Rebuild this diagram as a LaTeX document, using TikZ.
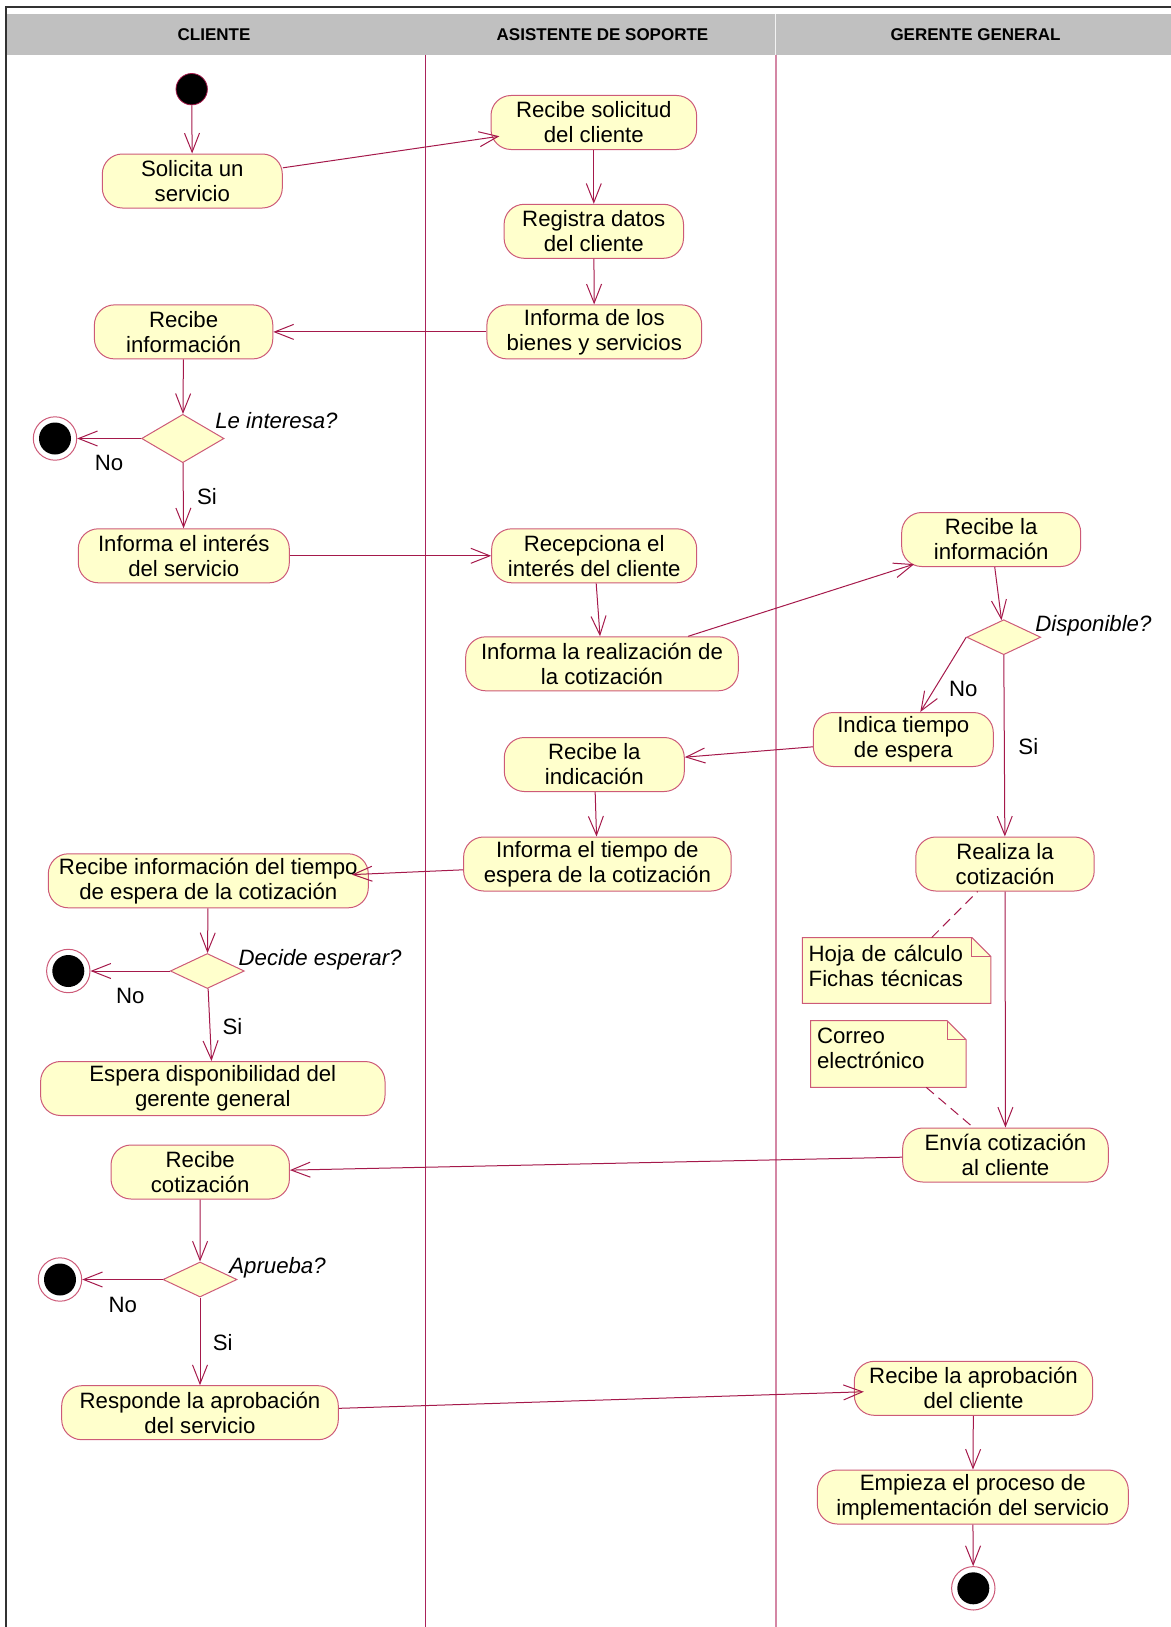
\documentclass[tikz,border=0pt]{standalone}
\usepackage{fontspec}
\setmainfont{Liberation Sans}
\usetikzlibrary{arrows.meta,shapes.geometric,calc,backgrounds}

\definecolor{linkred}{RGB}{165,25,75}
\definecolor{edgered}{RGB}{205,90,120}
\definecolor{actfill}{RGB}{255,255,204}
\definecolor{lanedark}{RGB}{170,35,90}
\definecolor{lanelight}{RGB}{212,135,165}
\definecolor{headgray}{RGB}{192,192,192}
\definecolor{framegray}{RGB}{50,50,50}

\begin{document}
\begin{tikzpicture}[x=0.5pt,y=-0.5pt,
  activity/.style={draw=edgered, fill=actfill, line width=0.5pt, rounded corners=10pt,
    minimum height=27pt, inner sep=0pt, align=center,
    font=\fontsize{11.1}{12.5}\selectfont},
  decision/.style={diamond, draw=edgered, fill=actfill, line width=0.5pt, inner sep=0pt,
    minimum width=37pt, minimum height=17.5pt},
  initial/.style={circle, fill=black, draw=linkred, line width=0.4pt, inner sep=0pt,
    minimum size=15.7pt},
  final/.style={circle, draw=edgered, fill=white, line width=0.5pt, inner sep=0pt,
    minimum size=21.7pt,
    path picture={\fill[black] (path picture bounding box.center) circle (8pt);}},
  note/.style={inner xsep=3pt, inner ysep=0pt, align=left,
    font=\fontsize{11.1}{12.5}\selectfont},
  arrowto/.style={draw=linkred, line width=0.5pt,
    -{Straight Barb[length=9.5pt,width=7.5pt]}},
  notelink/.style={draw=linkred, line width=0.5pt, dash pattern=on 5pt off 3pt},
  guard/.style={inner sep=0pt, font=\fontsize{11.1}{12.5}\selectfont},
  question/.style={inner sep=0pt, anchor=west, font=\fontsize{11.1}{12.5}\selectfont\itshape},
  lanehead/.style={inner sep=0pt, font=\fontsize{8.5}{10}\selectfont\bfseries}
]
\useasboundingbox (0,0) rectangle (1171,1627);

% swimlane frame and headers
\fill[headgray] (7,14.3) rectangle (1171,55);
\draw[white!80!headgray, line width=0.6pt] (775.7,14.3) -- (775.7,55);
\draw[framegray, line width=1pt] (5.7,1627) -- (5.7,7.3) -- (1171,7.3);
\draw[lanedark, line width=0.7pt] (425.5,55) -- (425.5,1627);
\draw[lanelight, line width=0.9pt] (775.7,55) -- (775.7,1627);
\node[lanehead] (h1) at (214,35) {CLIENTE};
\node[lanehead] (h2) at (602.5,35) {ASISTENTE DE SOPORTE};
\node[lanehead] (h3) at (975.5,35) {GERENTE GENERAL};

% CLIENTE lane
\node[initial] (start) at (191.7,89.2) {};
\node[activity, minimum width=90pt] (solicita) at (192.3,181) {Solicita un\\servicio};
\node[activity, minimum width=89.2pt] (recInfo) at (183.6,331.9) {Recibe\\información};
\node[decision, minimum width=41.2pt, minimum height=24.2pt] (dec1) at (182.8,438.5) {};
\node[final] (end1) at (55,438.5) {};
\node[question] (q1) at (215,421) {Le interesa?};
\node[guard] (no1) at (109,463) {No};
\node[guard] (si1) at (207,497) {Si};
\node[activity, minimum width=105.5pt] (infInteres) at (183.8,555.8) {Informa el interés\\del servicio};
\node[activity, minimum width=160pt] (recInfTiempo) at (208.3,880.8) {Recibe información del tiempo\\de espera de la cotización};
\node[decision] (dec3) at (207.3,971) {};
\node[final] (end3) at (68.3,971) {};
\node[question] (q3) at (238.3,960) {Decide esperar?};
\node[guard] (no3) at (130.3,996) {No};
\node[guard] (si3) at (232.5,1026.7) {Si};
\node[activity, minimum width=172.2pt] (espera) at (212.8,1088.5) {Espera disponibilidad del\\gerente general};
\node[activity, minimum width=89.2pt] (recCot) at (200.2,1172) {Recibe\\cotización};
\node[decision] (dec4) at (200,1279.5) {};
\node[final] (end4) at (60,1279.5) {};
\node[question] (q4) at (229,1268) {Aprueba?};
\node[guard] (no4) at (122.7,1305) {No};
\node[guard] (si4) at (222.8,1343) {Si};
\node[activity, minimum width=138.3pt] (responde) at (200,1412.7) {Responde la aprobación\\del servicio};

% ASISTENTE DE SOPORTE lane
\node[activity, minimum width=102.8pt] (recSol) at (593.8,122.5) {Recibe solicitud\\del cliente};
\node[activity, minimum width=89.7pt] (registra) at (593.8,231.3) {Registra datos\\del cliente};
\node[activity, minimum width=107.4pt] (infBienes) at (594.3,331.9) {Informa de los\\bienes y servicios};
\node[activity, minimum width=102.5pt] (recepciona) at (594.2,555.8) {Recepciona el\\interés del cliente};
\node[activity, minimum width=136.3pt] (infRealiz) at (602,663.8) {Informa la realización de\\la cotización};
\node[activity, minimum width=90pt] (recInd) at (594.3,764.5) {Recibe la\\indicación};
\node[activity, minimum width=133.8pt] (infTiempo) at (597.4,864) {Informa el tiempo de\\espera de la cotización};

% GERENTE GENERAL lane
\node[activity, minimum width=89.5pt] (recInfoG) at (991.2,539.5) {Recibe la\\información};
\node[decision] (dec2) at (1003.7,637.2) {};
\node[question] (q2) at (1035,626) {Disponible?};
\node[guard] (no2) at (963.3,689) {No};
\node[guard] (si2) at (1028.3,746.7) {Si};
\node[activity, minimum width=90pt] (indica) at (903.3,739.5) {Indica tiempo\\de espera};
\node[activity, minimum width=89.2pt] (realiza) at (1005,864) {Realiza la\\cotización};
% note texts sit in the upper part of their boxes
\node[note, text width=87.9pt, minimum height=27.5pt] (note1) at (896.6,965.5) {Hoja de cálculo\\Fichas técnicas};
\node[note, text width=71.3pt, minimum height=27pt] (note2) at (888.3,1048) {Correo\\electrónico};
\node[activity, minimum width=102.8pt] (envia) at (1005.5,1155) {Envía cotización\\al cliente};
\node[activity, minimum width=119.2pt] (recAprob) at (973.5,1388.3) {Recibe la aprobación\\del cliente};
\node[activity, minimum width=155.5pt] (empieza) at (972.8,1497) {Empieza el proceso de\\implementación del servicio};
\node[final] (endF) at (973.3,1588.3) {};

% note bodies with folded corner
\begin{scope}[on background layer]
  \foreach \n/\extra in {note1/5pt,note2/6pt} {
    \filldraw[draw=edgered, fill=actfill, line width=0.5pt]
      (\n.north west) -- ([xshift=-9.5pt]\n.north east) -- ([yshift=-9.5pt]\n.north east)
      -- ([yshift=-\extra]\n.south east) -- ([yshift=-\extra]\n.south west) -- cycle;
    \draw[edgered, line width=0.5pt]
      ([xshift=-9.5pt]\n.north east) -- ([xshift=-9.5pt,yshift=-9.5pt]\n.north east)
      -- ([yshift=-9.5pt]\n.north east);
  }
\end{scope}

% control flow
\draw[arrowto] (start) -- (solicita);
\draw[arrowto, shorten >=-4.5pt] (solicita) -- (recSol);
\draw[arrowto] (recSol) -- (registra);
\draw[arrowto] (registra) -- (infBienes);
\draw[arrowto] (infBienes) -- (recInfo);
\draw[arrowto] (recInfo) -- (dec1);
\draw[arrowto] (dec1) -- (end1);
\draw[arrowto] (dec1) -- (infInteres);
\draw[arrowto] (infInteres) -- (recepciona);
\draw[arrowto] (recepciona) -- (infRealiz);
\draw[arrowto, shorten >=-4.75pt] (infRealiz) -- (recInfoG);
\draw[arrowto] (recInfoG) -- (dec2);
\draw[arrowto] (dec2.west) -- ($(indica.north)+(17,0)$);
\draw[arrowto] (dec2) -- (realiza);
\draw[arrowto] (indica) -- (recInd);
\draw[arrowto] (recInd) -- (infTiempo);
\draw[arrowto, shorten >=-8.5pt] (infTiempo) -- (recInfTiempo);
\draw[arrowto] (recInfTiempo) -- (dec3);
\draw[arrowto] (dec3) -- (end3);
\draw[arrowto] (dec3) -- (espera);
\draw[arrowto] (realiza) -- (envia);
\draw[notelink] ([xshift=17.5pt]note1.north) -- (realiza);
\draw[notelink] ([xshift=19pt,yshift=-6pt]note2.south) -- (envia);
\draw[arrowto] (envia) -- (recCot);
\draw[arrowto] (recCot) -- (dec4);
\draw[arrowto] (dec4) -- (end4);
\draw[arrowto] (dec4) -- (responde);
\draw[arrowto, shorten >=-5pt] (responde) -- (recAprob);
\draw[arrowto] (recAprob) -- (empieza);
\draw[arrowto] (empieza) -- (endF);
\end{tikzpicture}
\end{document}
